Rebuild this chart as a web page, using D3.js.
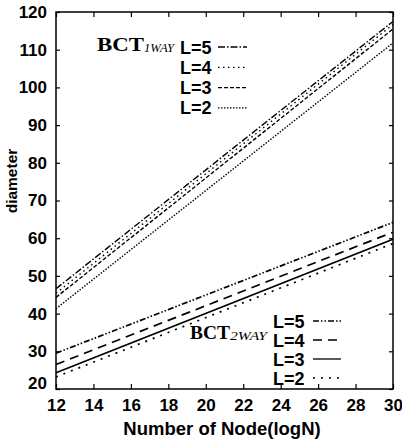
<!DOCTYPE html>
<html>
<head>
<meta charset="utf-8">
<script src="https://cdn.jsdelivr.net/npm/d3@7"></script>
<style>
  body { margin: 0; background: #fff; }
  svg { display: block; }
  .tick-label { font-family: "Liberation Sans", Arial, sans-serif; font-weight: bold; font-size: 17px; }
</style>
</head>
<body>
<div id="chart"></div>
<script>
// x domain: log N, read at both ends of each straight line
const xEnds = [12, 30];
const xTicks = [12, 14, 16, 18, 20, 22, 24, 26, 28, 30];
const yTicks = [20, 30, 40, 50, 60, 70, 80, 90, 100, 110, 120];

// BCT 1-way, diameter at logN = 12 and 30
const oneWayL5 = [46.6, 117.5];
const oneWayL4 = [45.4, 116.7];
const oneWayL3 = [44.3, 115.5];
const oneWayL2 = [41.3, 111.8];

// BCT 2-way
const twoWayL5 = [29.5, 64.2];
const twoWayL4 = [26.5, 61.6];
const twoWayL3 = [24.3, 59.7];
const twoWayL2 = [23.2, 58.6];

const legendLabels = ['L=5', 'L=4', 'L=3', 'L=2'];

const width = 402, height = 445;
const margin = {left: 56, right: 9, top: 12, bottom: 56};

const svg = d3.select('#chart').append('svg')
  .attr('width', width)
  .attr('height', height);

const x = d3.scaleLinear().domain([12, 30]).range([margin.left, width - margin.right]);
const y = d3.scaleLinear().domain([20, 120]).range([height - margin.bottom, margin.top]);

// styles per series
const oneWayStyles = ['7 2 1.5 2', '1.5 3.5', '4 2', '1.5 1.5'];
const twoWayStyles = ['6 2 1.5 2 1.5 2', '9 6', null, '2 6'];

// frame
svg.append('rect')
  .attr('x', x(12)).attr('y', y(120))
  .attr('width', x(30) - x(12)).attr('height', y(20) - y(120))
  .attr('fill', 'none').attr('stroke', '#000').attr('stroke-width', 1.5);

// axes, ticks inward
const gBottom = svg.append('g').attr('transform', `translate(0,${y(20)})`)
  .call(d3.axisBottom(x).tickValues(xTicks).tickSize(-5).tickPadding(10).tickFormat(d3.format('d')));
const gTop = svg.append('g').attr('transform', `translate(0,${y(120)})`)
  .call(d3.axisTop(x).tickValues(xTicks).tickSize(-5).tickFormat(''));
const gLeft = svg.append('g').attr('transform', `translate(${x(12)},0)`)
  .call(d3.axisLeft(y).tickValues(yTicks).tickSize(-4).tickPadding(9).tickFormat(d3.format('d')));
const gRight = svg.append('g').attr('transform', `translate(${x(30)},0)`)
  .call(d3.axisRight(y).tickValues(yTicks).tickSize(-4).tickFormat(''));

[gBottom, gTop, gLeft, gRight].forEach(g => {
  g.select('.domain').remove();
  g.selectAll('line').attr('stroke', '#000').attr('stroke-width', 1.2);
  g.selectAll('text').attr('class', 'tick-label').attr('fill', '#000');
});
gLeft.selectAll('.tick').filter(d => d === 20).select('text').attr('dy', '-0.05em');

// lines
const line = d3.line().x(d => x(d[0])).y(d => y(d[1]));
function drawSeries(vals, dash, w) {
  svg.append('path')
    .datum(xEnds.map((v, i) => [v, vals[i]]))
    .attr('d', line)
    .attr('fill', 'none')
    .attr('stroke', '#000')
    .attr('stroke-width', w)
    .attr('stroke-dasharray', dash);
}
[oneWayL5, oneWayL4, oneWayL3, oneWayL2].forEach((s, i) => drawSeries(s, oneWayStyles[i], 1.4));
[twoWayL5, twoWayL4, twoWayL3, twoWayL2].forEach((s, i) => drawSeries(s, twoWayStyles[i], 1.7));

// legends
function legend(cfg) {
  const g = svg.append('g');
  const serif = '"Liberation Serif", "Times New Roman", serif';
  g.append('text')
    .attr('x', cfg.titleX).attr('y', cfg.titleY)
    .attr('font-family', serif).attr('font-weight', 'bold').attr('font-size', 19)
    .attr('textLength', cfg.titleLen).attr('lengthAdjust', 'spacingAndGlyphs')
    .text('BCT');
  g.append('text')
    .attr('x', cfg.titleX + cfg.titleLen).attr('y', cfg.titleY + 1)
    .attr('font-family', serif).attr('font-style', 'italic').attr('font-size', 12)
    .attr('textLength', cfg.subLen).attr('lengthAdjust', 'spacingAndGlyphs')
    .text(cfg.sub);
  legendLabels.forEach((lab, i) => {
    const yy = cfg.rowY + i * cfg.step;
    g.append('text')
      .attr('x', cfg.labelX).attr('y', yy + 6.5)
      .attr('class', 'tick-label').style('font-size', '18px')
      .text(lab);
    g.append('line')
      .attr('x1', cfg.lineX1).attr('x2', cfg.lineX2)
      .attr('y1', yy).attr('y2', yy)
      .attr('stroke', '#000').attr('stroke-width', cfg.w)
      .attr('stroke-dasharray', cfg.styles[i]);
  });
}
legend({sub: '1WAY', titleX: 97, titleY: 51, titleLen: 47, subLen: 30, labelX: 180, rowY: 47, step: 20.3,
        lineX1: 218, lineX2: 247, styles: oneWayStyles, w: 1.3});
legend({sub: '2WAY', titleX: 190, titleY: 339, titleLen: 40, subLen: 37, labelX: 273, rowY: 321, step: 19,
        lineX1: 313, lineX2: 341, styles: twoWayStyles, w: 1.3});

// axis titles
svg.append('text')
  .attr('x', 222).attr('y', 435)
  .attr('text-anchor', 'middle')
  .attr('class', 'tick-label').style('font-size', '18.5px')
  .text('Number of Node(logN)');
svg.append('text')
  .attr('transform', 'translate(17,181) rotate(-90)')
  .attr('text-anchor', 'middle')
  .attr('class', 'tick-label').style('font-size', '15.5px')
  .text('diameter');
</script>
</body>
</html>
